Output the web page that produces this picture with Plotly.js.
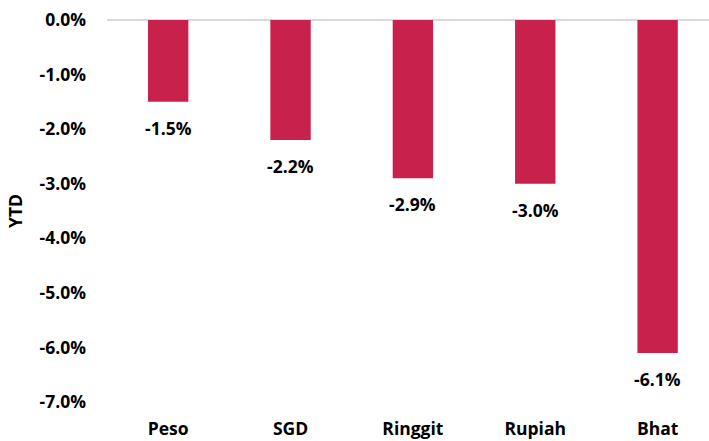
<!DOCTYPE html>
<html>
<head>
<meta charset="utf-8">
<script src="https://cdn.plot.ly/plotly-3.0.1.min.js"></script>
<style>html,body{margin:0;padding:0;background:#fff;}#chart{width:709px;height:441px;}</style>
</head>
<body>
<div id="chart"></div>
<script>
const categories = ["Peso", "SGD", "Ringgit", "Rupiah", "Bhat"];
const ytdValues = [-1.5, -2.2, -2.9, -3.0, -6.1];
const yTickValues = [0, -1, -2, -3, -4, -5, -6, -7];
const yTickLabels = ["0.0%", "-1.0%", "-2.0%", "-3.0%", "-4.0%", "-5.0%", "-6.0%", "-7.0%"];

const fontFamily = "'Open Sans', Lato, sans-serif";
const fontSize = 17.5;
const boldFont = {family: fontFamily, size: fontSize, color: "#000", weight: 700};

const trace = {
  type: "bar",
  x: categories,
  y: ytdValues,
  marker: {color: "#C8214B"},
  width: 0.33,
  cliponaxis: false,
  hoverinfo: "skip"
};

const annotations = categories.map((c, i) => ({
  x: c,
  y: ytdValues[i],
  xref: "x",
  yref: "y",
  text: ytdValues[i].toFixed(1) + "%",
  showarrow: false,
  yanchor: "middle",
  xanchor: "center",
  yshift: -26,
  font: boldFont
}));

const layout = {
  width: 709,
  height: 441,
  margin: {l: 107, r: 0, t: 20, b: 39},
  paper_bgcolor: "#fff",
  plot_bgcolor: "#fff",
  showlegend: false,
  font: boldFont,
  annotations: annotations,
  xaxis: {
    range: [-0.5, 4.42],
    showgrid: false,
    showline: false,
    zeroline: false,
    ticks: "",
    ticklabelstandoff: 14,
    tickfont: boldFont
  },
  yaxis: {
    range: [-7, 0],
    tickvals: yTickValues,
    ticktext: yTickLabels,
    showgrid: false,
    showline: false,
    zeroline: true,
    zerolinecolor: "#D9D9D9",
    zerolinewidth: 2,
    ticks: "",
    ticklabelstandoff: 20,
    tickfont: boldFont,
    title: {text: "YTD", font: boldFont, standoff: 12}
  }
};

Plotly.newPlot("chart", [trace], layout, {displayModeBar: false, staticPlot: true});
</script>
</body>
</html>
